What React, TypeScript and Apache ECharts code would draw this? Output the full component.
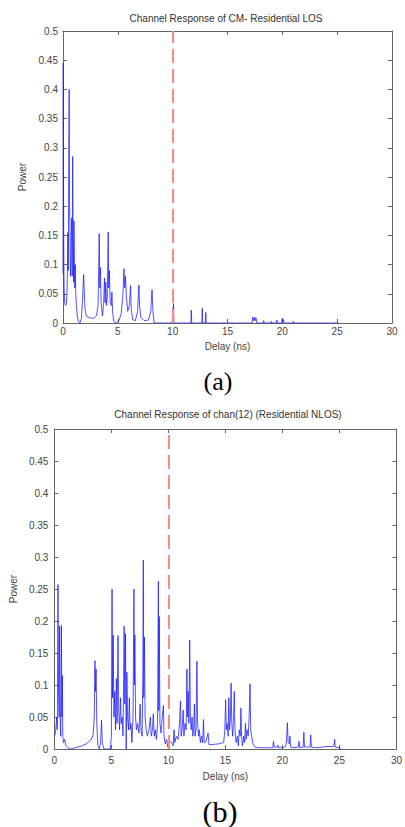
import React, { useEffect, useRef } from "react";
import * as echarts from "echarts";

const xTicks = [0, 5, 10, 15, 20, 25, 30];
const yTicks = [0, 0.05, 0.1, 0.15, 0.2, 0.25, 0.3, 0.35, 0.4, 0.45, 0.5];
const markerDelay = 10;
const titleLOS = "Channel Response of CM- Residential LOS";
const titleNLOS = "Channel Response of chan(12) (Residential NLOS)";
const xName = "Delay (ns)";
const yName = "Power";

const losPoints: [number, number][] = [
  [0, 0.085], [0.02, 0.445], [0.04, 0.27], [0.07, 0.12], [0.1, 0.06], [0.15, 0.035], [0.22, 0.03], [0.3, 0.032],
  [0.36, 0.05], [0.4, 0.08], [0.44, 0.155], [0.48, 0.09], [0.52, 0.25], [0.56, 0.4], [0.6, 0.2], [0.64, 0.155],
  [0.68, 0.08], [0.72, 0.1], [0.76, 0.155], [0.8, 0.18], [0.84, 0.08], [0.88, 0.285], [0.92, 0.15], [0.96, 0.07],
  [1.0, 0.175], [1.04, 0.11], [1.08, 0.06], [1.12, 0.1], [1.16, 0.05], [1.22, 0.03], [1.3, 0.012], [1.42, 0.002],
  [1.55, 0.0], [1.68, 0.008], [1.78, 0.04], [1.88, 0.083], [1.94, 0.055], [2.0, 0.025], [2.12, 0.012], [2.4, 0.009],
  [2.8, 0.008], [3.05, 0.012], [3.2, 0.03], [3.3, 0.153], [3.36, 0.06], [3.41, 0.095], [3.48, 0.035], [3.6, 0.012],
  [3.7, 0.03], [3.78, 0.077], [3.84, 0.035], [3.9, 0.07], [3.96, 0.03], [4.04, 0.045], [4.12, 0.156], [4.17, 0.06],
  [4.23, 0.09], [4.3, 0.035], [4.4, 0.03], [4.46, 0.053], [4.52, 0.02], [4.62, 0.003], [4.85, 0.0], [5.1, 0.004],
  [5.3, 0.015], [5.45, 0.045], [5.56, 0.093], [5.62, 0.06], [5.7, 0.08], [5.78, 0.045], [5.9, 0.02], [6.05, 0.03],
  [6.16, 0.064], [6.22, 0.025], [6.35, 0.006], [6.6, 0.004], [6.8, 0.02], [6.92, 0.065], [6.98, 0.03], [7.1, 0.01],
  [7.4, 0.004], [7.8, 0.005], [8.0, 0.02], [8.12, 0.057], [8.2, 0.02], [8.3, 0.0], [9.96, 0.0], [10.0, 0.025],
  [10.04, 0.0], [10.08, 0.033], [10.12, 0.0], [11.66, 0.0], [11.7, 0.022], [11.74, 0.0], [12.66, 0.0], [12.7, 0.025],
  [12.74, 0.0], [12.98, 0.0], [13.02, 0.018], [13.06, 0.0], [17.25, 0.0], [17.3, 0.01], [17.38, 0.004], [17.45, 0.01],
  [17.52, 0.004], [17.6, 0.009], [17.68, 0.0], [18.25, 0.0], [18.3, 0.004], [18.35, 0.0], [18.95, 0.0], [19.0, 0.003],
  [19.05, 0.0], [19.45, 0.0], [19.5, 0.005], [19.55, 0.0], [19.95, 0.0], [20.0, 0.008], [20.05, 0.002], [20.1, 0.006],
  [20.15, 0.0], [20.95, 0.0], [21.0, 0.003], [21.05, 0.0], [25.15, 0.0],
];

const nlosPoints: [number, number][] = [
  [0, 0.02], [0.1, 0.025], [0.2, 0.05], [0.26, 0.03], [0.32, 0.257], [0.36, 0.1], [0.42, 0.05], [0.46, 0.192],
  [0.5, 0.06], [0.56, 0.02], [0.62, 0.193], [0.66, 0.05], [0.7, 0.115], [0.74, 0.02], [0.8, 0.01], [0.9, 0.015],
  [1.0, 0.006], [1.2, 0.002], [1.4, 0.0], [1.8, 0.002], [2.3, 0.004], [2.8, 0.008], [3.2, 0.014], [3.4, 0.022],
  [3.5, 0.05], [3.56, 0.138], [3.6, 0.09], [3.66, 0.125], [3.72, 0.04], [3.82, 0.005], [3.95, 0.0], [4.05, 0.01],
  [4.14, 0.045], [4.2, 0.01], [4.35, 0.0], [4.9, 0.0], [5.0, 0.02], [5.06, 0.25], [5.1, 0.08], [5.16, 0.178],
  [5.22, 0.05], [5.3, 0.09], [5.36, 0.03], [5.44, 0.11], [5.5, 0.04], [5.58, 0.177], [5.64, 0.06], [5.72, 0.03],
  [5.8, 0.08], [5.86, 0.04], [5.95, 0.05], [6.02, 0.02], [6.12, 0.192], [6.18, 0.07], [6.24, 0.18], [6.3, 0.0],
  [6.36, 0.12], [6.42, 0.05], [6.5, 0.03], [6.58, 0.08], [6.64, 0.03], [6.72, 0.04], [6.8, 0.01], [6.9, 0.05],
  [6.98, 0.25], [7.02, 0.1], [7.06, 0.178], [7.12, 0.05], [7.2, 0.03], [7.3, 0.04], [7.42, 0.025], [7.52, 0.07],
  [7.6, 0.03], [7.7, 0.02], [7.76, 0.12], [7.8, 0.295], [7.84, 0.08], [7.9, 0.175], [7.96, 0.05], [8.05, 0.03],
  [8.15, 0.02], [8.3, 0.03], [8.42, 0.05], [8.5, 0.02], [8.6, 0.03], [8.68, 0.055], [8.76, 0.02], [8.86, 0.03],
  [8.95, 0.015], [9.05, 0.04], [9.12, 0.262], [9.16, 0.06], [9.2, 0.207], [9.26, 0.04], [9.36, 0.025], [9.46, 0.05],
  [9.56, 0.068], [9.62, 0.02], [9.72, 0.008], [9.85, 0.015], [9.95, 0.003], [10.1, 0.012], [10.3, 0.01], [10.42, 0.005],
  [10.5, 0.03], [10.56, 0.01], [10.7, 0.02], [10.85, 0.015], [10.98, 0.04], [11.06, 0.075], [11.12, 0.02], [11.2, 0.03],
  [11.3, 0.061], [11.36, 0.02], [11.46, 0.04], [11.56, 0.03], [11.62, 0.125], [11.68, 0.05], [11.74, 0.09], [11.8, 0.04],
  [11.87, 0.17], [11.93, 0.05], [12.0, 0.03], [12.08, 0.05], [12.14, 0.02], [12.22, 0.03], [12.28, 0.07], [12.34, 0.02],
  [12.42, 0.03], [12.5, 0.137], [12.56, 0.04], [12.64, 0.02], [12.72, 0.03], [12.8, 0.01], [12.9, 0.02], [13.0, 0.01],
  [13.08, 0.046], [13.14, 0.01], [13.3, 0.012], [13.48, 0.025], [13.56, 0.007], [13.8, 0.007], [14.4, 0.008], [14.85, 0.01],
  [14.95, 0.03], [15.02, 0.077], [15.08, 0.03], [15.16, 0.04], [15.24, 0.02], [15.3, 0.08], [15.36, 0.03], [15.44, 0.05],
  [15.5, 0.103], [15.56, 0.04], [15.64, 0.02], [15.72, 0.05], [15.78, 0.09], [15.84, 0.03], [15.94, 0.01], [16.05, 0.02],
  [16.14, 0.005], [16.22, 0.03], [16.3, 0.02], [16.36, 0.064], [16.42, 0.02], [16.5, 0.005], [16.6, 0.02], [16.68, 0.01],
  [16.76, 0.04], [16.82, 0.015], [16.9, 0.03], [17.0, 0.02], [17.08, 0.05], [17.16, 0.102], [17.22, 0.03], [17.3, 0.02],
  [17.42, 0.008], [17.6, 0.003], [18.0, 0.002], [18.6, 0.002], [19.15, 0.002], [19.22, 0.012], [19.28, 0.003], [19.55, 0.003],
  [19.6, 0.006], [19.66, 0.002], [20.0, 0.002], [20.3, 0.004], [20.38, 0.02], [20.44, 0.041], [20.5, 0.01], [20.6, 0.008],
  [20.66, 0.02], [20.72, 0.003], [21.0, 0.002], [21.4, 0.003], [21.46, 0.012], [21.52, 0.002], [21.82, 0.003], [21.88, 0.026],
  [21.94, 0.003], [22.42, 0.003], [22.48, 0.022], [22.54, 0.003], [23.0, 0.002], [23.5, 0.003], [24.0, 0.004], [24.5, 0.004],
  [24.58, 0.015], [24.64, 0.003], [25.0, 0.002], [25.1, 0.0],
];

const FONT = "Liberation Sans, Arial, sans-serif";
const AXIS_COLOR = "#666";
const LABEL_COLOR = "#444";

function axisPair(gridIndex: number, labelMargin: number, nameGap: number, isX: boolean, showName: boolean) {
  const ticks = isX ? xTicks : yTicks;
  return {
    type: "value",
    gridIndex,
    min: ticks[0],
    max: ticks[ticks.length - 1],
    interval: ticks[1] - ticks[0],
    name: showName ? (isX ? xName : yName) : "",
    nameLocation: "middle",
    nameGap,
    nameRotate: isX ? 0 : 90,
    nameTextStyle: { fontSize: 10, color: LABEL_COLOR, fontFamily: FONT },
    axisLine: { show: true, onZero: false, lineStyle: { color: AXIS_COLOR, width: 1 } },
    axisTick: { show: true, inside: true, length: 4, lineStyle: { color: AXIS_COLOR } },
    axisLabel: {
      show: showName,
      margin: labelMargin,
      fontSize: 10,
      color: LABEL_COLOR,
      fontFamily: FONT,
      formatter: (v: number) => String(parseFloat(v.toFixed(2))),
    },
    splitLine: { show: false },
  };
}

export default function App() {
  const ref = useRef<HTMLDivElement>(null);
  useEffect(() => {
    if (!ref.current) return;
    const chart = echarts.init(ref.current, null, { renderer: "svg" });
    const markLine = {
      silent: true,
      symbol: ["none", "none"],
      label: { show: false },
      lineStyle: { color: "#ff8a8a", type: [14, 6], width: 2 },
      data: [{ xAxis: markerDelay }],
    };
    const lineStyle = { color: "#1a1aff", width: 1, opacity: 0.75 };
    chart.setOption({
      animation: false,
      backgroundColor: "#fff",
      title: [
        { text: titleLOS, left: 226, top: 13, textAlign: "center", padding: 0,
          textStyle: { fontSize: 10, fontWeight: "normal", color: "#333", fontFamily: FONT } },
        { text: titleNLOS, left: 228, top: 409, textAlign: "center", padding: 0,
          textStyle: { fontSize: 10, fontWeight: "normal", color: "#333", fontFamily: FONT } },
        { text: "(a)", left: 218, top: 368, textAlign: "center", padding: 0,
          textStyle: { fontSize: 26, fontWeight: "normal", color: "#000", fontFamily: "Liberation Serif, Times New Roman, serif" } },
        { text: "(b)", left: 220, top: 796, textAlign: "center", padding: 0,
          textStyle: { fontSize: 30, fontWeight: "normal", color: "#000", fontFamily: "Liberation Serif, Times New Roman, serif" } },
      ],
      grid: [
        { left: 63, top: 31, width: 329, height: 292 },
        { left: 53, top: 429, width: 351, height: 320 },
      ],
      xAxis: [
        { ...axisPair(0, 3, 18, true, true), position: "bottom" },
        { ...axisPair(0, 3, 18, true, false), position: "top" },
        { ...axisPair(1, 6, 22, true, true), position: "bottom" },
        { ...axisPair(1, 6, 22, true, false), position: "top" },
      ],
      yAxis: [
        { ...axisPair(0, 5, 29, false, true), position: "left" },
        { ...axisPair(0, 5, 29, false, false), position: "right" },
        { ...axisPair(1, 6, 33, false, true), position: "left" },
        { ...axisPair(1, 6, 33, false, false), position: "right" },
      ],
      series: [
        { type: "line", xAxisIndex: 0, yAxisIndex: 0, data: losPoints, showSymbol: false, symbol: "none",
          lineStyle, markLine },
        { type: "line", xAxisIndex: 2, yAxisIndex: 2, data: nlosPoints, showSymbol: false, symbol: "none",
          lineStyle, markLine },
      ],
    });
    return () => chart.dispose();
  }, []);
  return (
    <div
      ref={ref}
      style={{ position: "fixed", left: 0, top: 0, width: 405, height: 827, background: "#fff" }}
    />
  );
}
